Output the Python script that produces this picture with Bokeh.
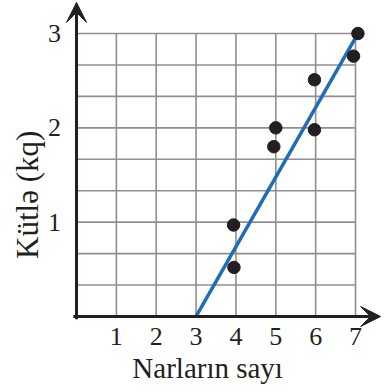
from bokeh.plotting import figure
from bokeh.models import Range1d, Arrow, VeeHead
from bokeh.core.properties import value
from bokeh.embed import file_html
from bokeh.resources import INLINE
import math

# ---- data ----
x_ticks = [1, 2, 3, 4, 5, 6, 7]
y_ticks = [1, 2, 3]
nar_sayi = [3.95, 3.94, 4.95, 5.0, 5.97, 5.97, 6.95, 7.06]   # Narların sayı
kutle = [0.52, 0.97, 1.80, 2.0, 1.98, 2.51, 2.76, 3.0]       # Kütlə (kq)
fit_x = [3, 7.02]
fit_y = [0, 2.97]
x_title = "Narların sayı"
y_title = "Kütlə (kq)"

FONT = "Liberation Serif"
INK = "#231f20"

p = figure(width=381, height=384, output_backend="svg", toolbar_location=None,
           x_range=Range1d(-1.907, 7.652), y_range=Range1d(-0.721, 3.350),
           x_axis_location=None, y_axis_location=None, min_border=0)
p.outline_line_color = None
p.grid.visible = False
p.background_fill_color = "white"
p.border_fill_color = "white"

# grid
xmax = max(x_ticks)
ymax = max(y_ticks)
vx = x_ticks
p.segment(x0=vx, x1=vx, y0=[0] * len(vx), y1=[ymax] * len(vx),
          line_color="#8f8f8f", line_width=1.6)
hy = [j / 3 for j in range(1, 3 * ymax + 1)]
p.segment(x0=[0] * len(hy), x1=[xmax] * len(hy), y0=hy, y1=hy,
          line_color="#8f8f8f", line_width=1.6)

# axes with arrows
p.add_layout(Arrow(x_start=-0.08, y_start=0, x_end=7.63, y_end=0, line_width=3,
                   line_color=INK, end=VeeHead(size=20, fill_color=INK, line_color=INK)))
p.add_layout(Arrow(x_start=0, y_start=-0.03, x_end=0, y_end=3.33, line_width=3,
                   line_color=INK, end=VeeHead(size=20, fill_color=INK, line_color=INK)))

# fitted line
p.line(fit_x, fit_y, line_color="#1f6db6", line_width=3.5)

# points
p.scatter(nar_sayi, kutle, size=12.5, fill_color=INK, line_color=INK)

# tick labels
p.text(x=x_ticks, y=[-0.212] * len(x_ticks), text=[str(t) for t in x_ticks],
       text_font=value(FONT), text_font_size="26px", text_align="center",
       text_baseline="middle", text_color=INK)
p.text(x=[-0.55] * len(y_ticks), y=y_ticks, text=[str(t) for t in y_ticks],
       text_font=value(FONT), text_font_size="26px", text_align="center",
       text_baseline="middle", text_color=INK)

# axis titles
p.text(x=[3.29], y=[-0.541], text=[x_title], text_font=value(FONT),
       text_font_size="29px", text_align="center", text_baseline="middle",
       text_color=INK)
p.text(x=[-1.242], y=[1.29], text=[y_title], text_font=value(FONT),
       text_font_size="31px", text_align="center", text_baseline="middle",
       angle=math.pi / 2, text_color=INK)

open("out.html", "w").write(file_html(p, INLINE))
